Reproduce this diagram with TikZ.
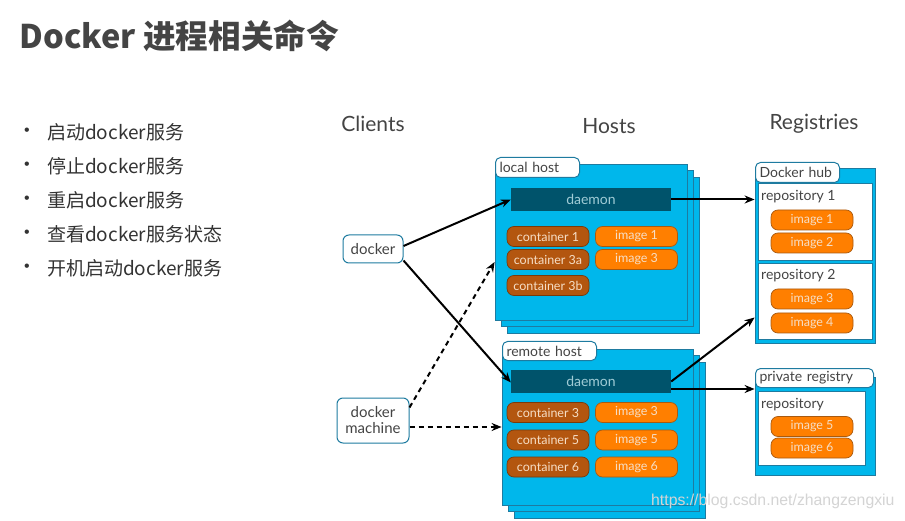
\documentclass[tikz,border=0pt]{standalone}
\usepackage{fontspec}
\setmainfont{Noto Sans CJK SC}
\newfontfamily\dfont{Lato}
\newfontfamily\wfont{Liberation Sans}
\usetikzlibrary{arrows.meta}
\definecolor{hostblue}{HTML}{00B7EB}
\definecolor{hostedge}{HTML}{1E7BA0}
\definecolor{daemonfill}{HTML}{00536B}
\definecolor{daemontext}{HTML}{A0CCD6}
\definecolor{contfill}{HTML}{B3560F}
\definecolor{contedge}{HTML}{7A3A0A}
\definecolor{imgfill}{HTML}{FF7F00}
\definecolor{imgedge}{HTML}{A85A10}
\definecolor{pilltext}{HTML}{F6DEC6}
\definecolor{txt}{HTML}{444444}
\definecolor{bultxt}{HTML}{333333}
\definecolor{wmark}{HTML}{D4D4D4}
\tikzset{
  hostbox/.style={draw=hostedge, fill=hostblue, line width=0.8pt, inner sep=0pt},
  tabbox/.style={draw=hostedge, fill=white, rounded corners=5pt, line width=1pt,
    inner xsep=4pt, inner ysep=0pt, align=left, text=txt, font=\dfont\fontsize{14}{14}\selectfont, anchor=north west},
  pill/.style={rounded corners=7pt, inner sep=0pt, minimum width=82pt, minimum height=20pt,
    font=\dfont\fontsize{12.5}{12.5}\selectfont, text=pilltext, line width=0.7pt},
  cont/.style={pill, fill=contfill, draw=contedge},
  img/.style={pill, fill=imgfill, draw=imgedge},
  daemonbox/.style={fill=daemonfill, inner sep=0pt, minimum width=160pt, minimum height=23pt,
    text=daemontext, font=\dfont\fontsize{14}{14}\selectfont},
  repobox/.style={draw=hostedge, fill=white, line width=0.8pt, inner sep=0pt},
  repolabel/.style={anchor=west, inner sep=0pt, text=txt, font=\dfont\fontsize{14}{14}\selectfont},
  client/.style={draw=hostedge, fill=white, rounded corners=6pt, line width=1pt, text=txt,
    font=\dfont\fontsize{15}{17}\selectfont, align=center, inner sep=0pt},
  heading/.style={text=txt, font=\dfont\fontsize{21}{21}\selectfont, inner sep=0pt},
  bul/.style={anchor=west, inner sep=0pt, text=bultxt, font=\fontsize{19}{19}\selectfont},
  arr/.style={-{Stealth[length=10pt,width=8pt]}, line width=2pt},
  dsh/.style={arr, dash pattern=on 5pt off 4pt},
}
\begin{document}
\begin{tikzpicture}[x=1pt,y=-1pt]
\useasboundingbox (0,0) rectangle (905,521);
\fill[white] (0,0) rectangle (905,521);

% title and bullets
\node[anchor=west, inner sep=0pt, text=txt, font=\bfseries\fontsize{32.6}{33}\selectfont] (title) at (19.5,36) {Docker 进程相关命令};
\foreach \i/\t/\y in {1/启动docker服务/132, 2/停止docker服务/166, 3/重启docker服务/200, 4/查看docker服务状态/234, 5/开机启动docker服务/268}{
  \node[anchor=center, inner sep=0pt, text=bultxt, font=\wfont\fontsize{16}{16}\selectfont] (d\i) at (27,\y) {•};
  \node[bul] (b\i) at (47,\y) {\t};
}

% headings
\node[heading] (hc) at (373,124) {Clients};
\node[heading] (hh) at (609,126) {Hosts};
\node[heading] (hr) at (814,124) {Registries};

% local host stack
\node[hostbox, minimum width=192pt, minimum height=156pt] (lh3) at (603,255) {};
\node[hostbox, minimum width=192pt, minimum height=156pt] (lh2) at (597,248.5) {};
\node[hostbox, minimum width=192pt, minimum height=156pt] (lh) at (591,242) {};
\node[tabbox, text width=76pt, minimum height=20pt] (lht) at (495,157) {local host};
\node[daemonbox] (ld) at (591,199.5) {daemon};
\node[cont] (lc1) at (548,236.5) {container 1};
\node[cont] (lc3a) at (548,259.5) {container 3a};
\node[cont] (lc3b) at (548,285.5) {container 3b};
\node[img] (li1) at (636.5,236.5) {image 1};
\node[img] (li3) at (636.5,259.5) {image 3};

% remote host stack
\node[hostbox, minimum width=191pt, minimum height=156pt] (rh3) at (609.5,440) {};
\node[hostbox, minimum width=191pt, minimum height=156pt] (rh2) at (603.5,433.5) {};
\node[hostbox, minimum width=191pt, minimum height=156pt] (rh) at (597.5,427) {};
\node[tabbox, text width=86pt, minimum height=19pt] (rht) at (502,341) {remote host};
\node[daemonbox] (rd) at (591,381.5) {daemon};
\node[cont] (rc3) at (548,412.5) {container 3};
\node[cont] (rc5) at (548,440) {container 5};
\node[cont] (rc6) at (548,467) {container 6};
\node[img] (ri3) at (636.5,412.5) {image 3};
\node[img] (ri5) at (636.5,440) {image 5};
\node[img] (ri6) at (636.5,467) {image 6};

% Docker hub
\node[hostbox, minimum width=120pt, minimum height=175pt] (dh) at (815,255.5) {};
\node[repobox, minimum width=114pt, minimum height=77pt] (r1) at (815,221.5) {};
\node[repobox, minimum width=114pt, minimum height=76pt] (r2) at (815,301) {};
\node[tabbox, text width=76pt, minimum height=20pt] (dht) at (755,162) {Docker hub};
\node[repolabel] (r1l) at (761,197) {repository 1};
\node[repolabel] (r2l) at (761,276) {repository 2};
\node[img] (h1) at (812,220) {image 1};
\node[img] (h2) at (812,243) {image 2};
\node[img] (h3) at (812,299) {image 3};
\node[img] (h4) at (812,323) {image 4};

% private registry
\node[hostbox, minimum width=120pt, minimum height=98pt] (pr) at (815,426) {};
\node[repobox, minimum width=107pt, minimum height=74pt] (pr1) at (811.5,428) {};
\node[tabbox, text width=110pt, minimum height=19pt] (prt) at (755,368) {private registry};
\node[repolabel] (prl) at (761,405) {repository};
\node[img] (p5) at (812,426.5) {image 5};
\node[img] (p6) at (812,448) {image 6};

% clients
\node[client, minimum width=60pt, minimum height=28pt] (dk) at (373,249) {docker};
\node[client, minimum width=72pt, minimum height=45pt] (dm) at (373,420.5) {docker\\[-1pt]machine};

% connectors
\draw[arr] ([yshift=3pt]dk.east) -- (ld.west);
\draw[arr] ([yshift=3pt]dk.south east) -- ([yshift=-1pt]rd.west);
\draw[dsh] ([yshift=-10pt]dm.north east) -- ([yshift=-20pt]lh.west);
\draw[dsh] (dm.east |- rh.west) -- (rh.west);
\draw[arr] (ld.east) -- (ld.east -| dh.west);
\draw[arr] (rd.east) -- ([yshift=-62pt]dh.west);
\draw[arr] ([yshift=-7.5pt]rd.east) -- ([yshift=-7.5pt]rd.east -| pr.west);

% watermark
\node[anchor=west, inner sep=0pt, text=wmark, font=\wfont\fontsize{15.8}{16}\selectfont] (wm) at (651,501) {https://blog.csdn.net/zhangzengxiu};
\end{tikzpicture}
\end{document}
